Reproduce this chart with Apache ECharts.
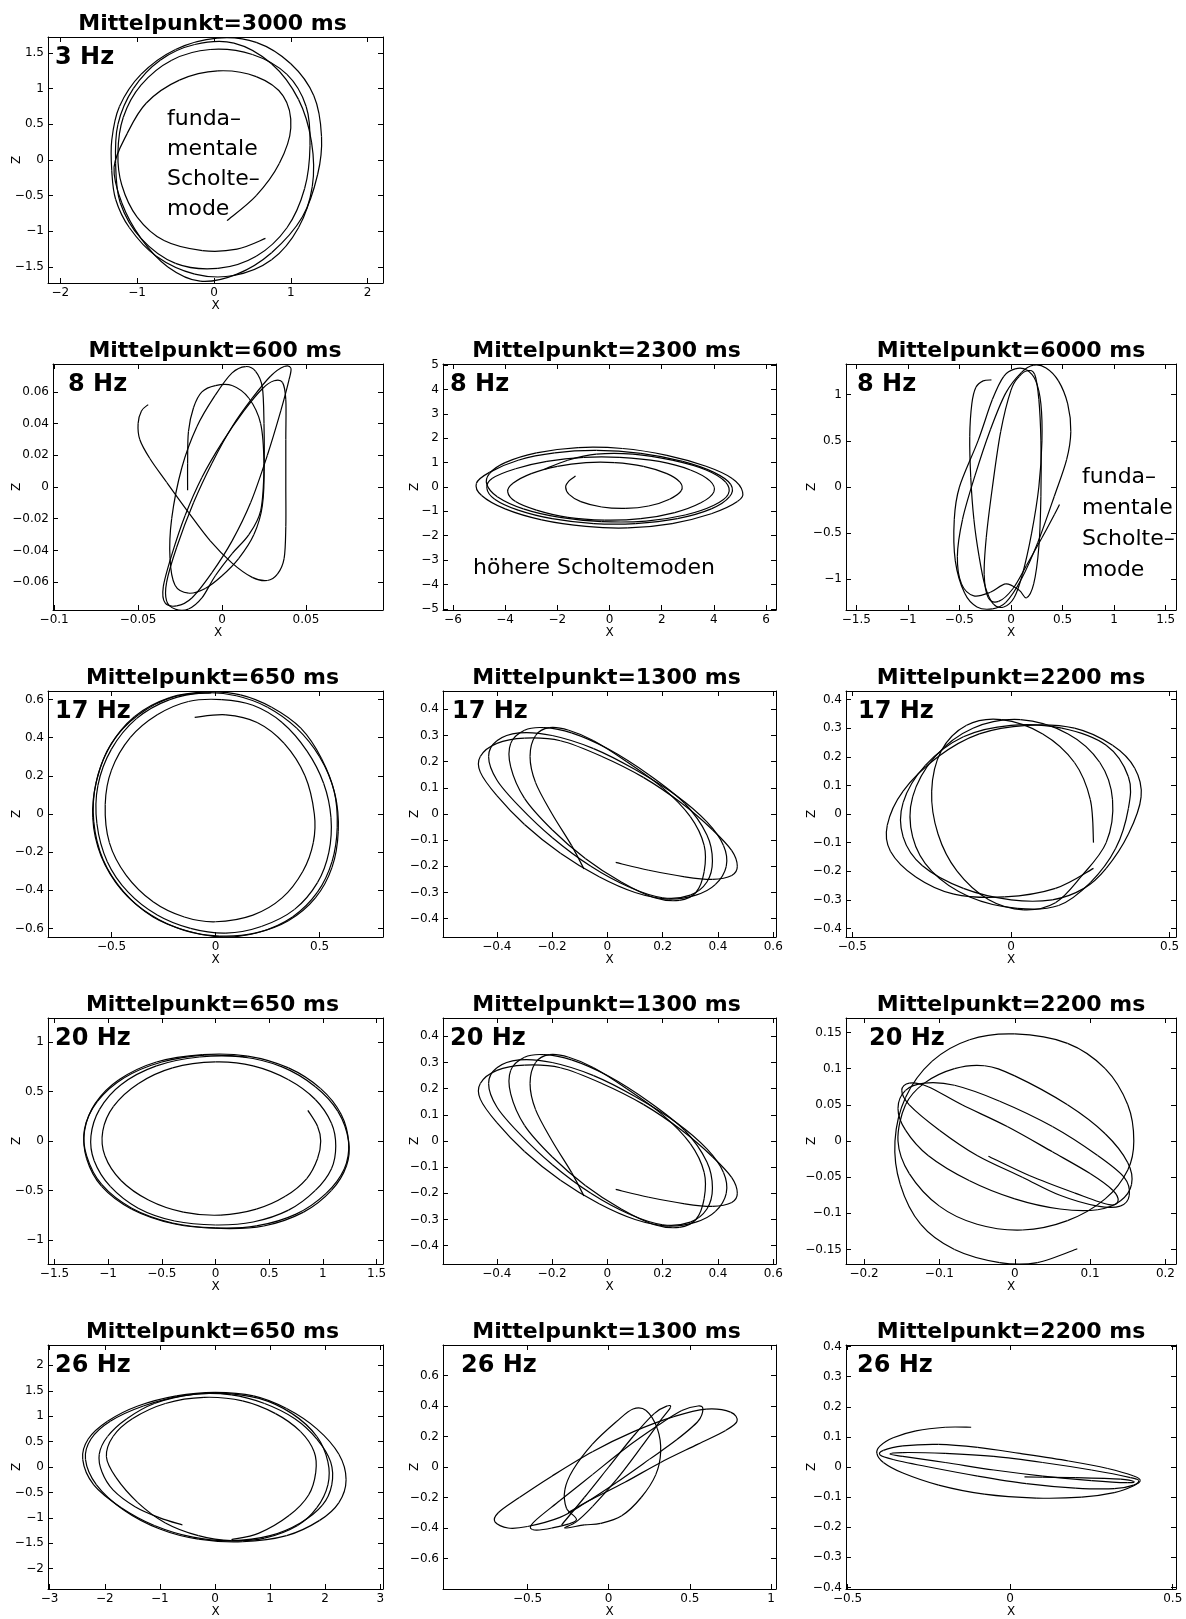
<!DOCTYPE html>
<html><head><meta charset="utf-8">
<script src="https://cdn.jsdelivr.net/npm/echarts/dist/echarts.min.js"></script>
<style>html,body{margin:0;padding:0;background:#fff}#c{width:1186px;height:1619px}</style>
</head><body><div id="c"></div>
<script>
// ---------- titles / labels ----------
const titles = ['Mittelpunkt=3000 ms','Mittelpunkt=600 ms','Mittelpunkt=2300 ms','Mittelpunkt=6000 ms',
  'Mittelpunkt=650 ms','Mittelpunkt=1300 ms','Mittelpunkt=2200 ms',
  'Mittelpunkt=650 ms','Mittelpunkt=1300 ms','Mittelpunkt=2200 ms',
  'Mittelpunkt=650 ms','Mittelpunkt=1300 ms','Mittelpunkt=2200 ms'];
const freqs = ['3 Hz','8 Hz','8 Hz','8 Hz','17 Hz','17 Hz','17 Hz','20 Hz','20 Hz','20 Hz','26 Hz','26 Hz','26 Hz'];
const noteFundamental = 'funda\u2013\nmentale\nScholte\u2013\nmode';
const noteHigher = 'h\u00f6here Scholtemoden';

// ---------- axis ranges ----------
const xRanges = [[-2.16,2.2],[-0.1007,0.0959],[-6.38,6.38],[-1.6,1.6],
  [-0.805,0.805],[-0.595,0.61],[-0.52,0.52],
  [-1.56,1.56],[-0.595,0.61],[-0.224,0.214],
  [-3.03,3.05],[-1.02,1.03],[-0.505,0.51]];
const yRanges = [[-1.725,1.725],[-0.0776,0.0776],[-5.05,5.05],[-1.333,1.333],
  [-0.645,0.645],[-0.47,0.47],[-0.43,0.43],
  [-1.245,1.245],[-0.47,0.47],[-0.17,0.17],
  [-2.4,2.4],[-0.8,0.8],[-0.405,0.405]];
// ---------- tick values ----------
const xTicks = [[-2,-1,0,1,2],[-0.1,-0.05,0,0.05],[-6,-4,-2,0,2,4,6],[-1.5,-1,-0.5,0,0.5,1,1.5],
  [-0.5,0,0.5],[-0.4,-0.2,0,0.2,0.4,0.6],[-0.5,0,0.5],
  [-1.5,-1,-0.5,0,0.5,1,1.5],[-0.4,-0.2,0,0.2,0.4,0.6],[-0.2,-0.1,0,0.1,0.2],
  [-3,-2,-1,0,1,2,3],[-0.5,0,0.5,1],[-0.5,0,0.5]];
const yTicks = [[-1.5,-1,-0.5,0,0.5,1,1.5],[-0.06,-0.04,-0.02,0,0.02,0.04,0.06],[-5,-4,-3,-2,-1,0,1,2,3,4,5],[-1,-0.5,0,0.5,1],
  [-0.6,-0.4,-0.2,0,0.2,0.4,0.6],[-0.4,-0.3,-0.2,-0.1,0,0.1,0.2,0.3,0.4],[-0.4,-0.3,-0.2,-0.1,0,0.1,0.2,0.3,0.4],
  [-1,-0.5,0,0.5,1],[-0.4,-0.3,-0.2,-0.1,0,0.1,0.2,0.3,0.4],[-0.15,-0.1,-0.05,0,0.05,0.1,0.15],
  [-2,-1.5,-1,-0.5,0,0.5,1,1.5,2],[-0.6,-0.4,-0.2,0,0.2,0.4,0.6],[-0.4,-0.3,-0.2,-0.1,0,0.1,0.2,0.3,0.4]];

// ---------- particle motion traces [X, Z] ----------
const hz3_3000 = [[0.17,-0.85],[0.55,-0.5],[0.85,-0.05],[1.0,0.45],[0.9,0.9],[0.55,1.17],[0.05,1.25],[-0.45,1.12],[-0.88,0.8],[-1.13,0.37],
  [-1.3,-0.1],[-1.2,-0.6],[-0.95,-1.1],[-0.6,-1.5],[-0.18,-1.7],[0.3,-1.6],[0.75,-1.3],[1.15,-0.8],[1.35,-0.2],[1.4,0.33],[1.3,0.9],[1.0,1.35],[0.55,1.65],[0.04,1.71],[-0.5,1.55],[-0.95,1.2],[-1.23,0.75],[-1.33,0.28],
  [-1.33,-0.15],[-1.28,-0.55],[-1.1,-0.95],[-0.75,-1.35],[-0.25,-1.6],[0.26,-1.62],[0.75,-1.4],[1.1,-0.95],[1.28,-0.37],[1.27,0.25],[1.1,0.85],[0.75,1.35],[0.26,1.64],[-0.25,1.62],[-0.7,1.4],[-1.05,1.0],[-1.25,0.5],
  [-1.28,-0.05],[-1.22,-0.6],[-0.95,-1.1],[-0.5,-1.45],[0.05,-1.52],[0.55,-1.35],[0.95,-0.95],[1.18,-0.4],[1.25,0.2],[1.2,0.75],[0.95,1.2],[0.5,1.48],[-0.05,1.55],[-0.55,1.4],[-0.95,1.05],[-1.18,0.6],
  [-1.25,0.1],[-1.2,-0.35],[-1.0,-0.8],[-0.65,-1.13],[-0.15,-1.27],[0.3,-1.25],[0.67,-1.1]];
const hz8_600 = [[-0.044,0.052],[-0.048,0.048],[-0.05,0.04],[-0.049,0.03],[-0.043,0.018],[-0.033,0.003],[-0.02,-0.016],[-0.007,-0.034],[0.006,-0.048],[0.018,-0.057],[0.027,-0.059],[0.033,-0.055],[0.037,-0.045],[0.038,-0.025],[0.038,0.0],[0.038,0.03],[0.038,0.055],[0.036,0.066],[0.031,0.067],[0.024,0.062],[0.013,0.048],[0.0,0.028],[-0.012,0.006],[-0.022,-0.018],[-0.03,-0.043],[-0.035,-0.063],[-0.034,-0.073],[-0.027,-0.075],[-0.018,-0.07],[-0.006,-0.054],[0.006,-0.034],[0.017,-0.01],[0.027,0.02],[0.035,0.048],[0.04,0.068],[0.041,0.075],[0.037,0.076],[0.029,0.07],[0.018,0.056],[0.006,0.038],[-0.006,0.015],[-0.017,-0.01],[-0.027,-0.038],[-0.033,-0.06],[-0.033,-0.072],[-0.028,-0.077],[-0.02,-0.077],[-0.012,-0.07],[-0.004,-0.056],[0.006,-0.042],[0.016,-0.03],[0.023,-0.015],[0.025,0.01],[0.025,0.04],[0.024,0.063],[0.02,0.073],[0.014,0.076],[0.006,0.072],[-0.004,0.058],[-0.015,0.038],[-0.024,0.012],[-0.03,-0.02],[-0.031,-0.045],[-0.028,-0.062],[-0.02,-0.067],[-0.01,-0.064],[0.0,-0.056],[0.01,-0.045],[0.019,-0.03],[0.024,-0.012],[0.025,0.015],[0.023,0.04],[0.016,0.056],[0.006,0.064],[-0.004,0.064],[-0.012,0.06],[-0.017,0.05],[-0.02,0.035],[-0.0205,0.015],[-0.0205,-0.002]];
const hz8_2300 = [[-1.3,0.45],[-1.55,0.25],[-1.68,0.0],[-1.55,-0.3],[-1.1,-0.6],[-0.3,-0.82],[0.6,-0.88],[1.5,-0.78],[2.3,-0.5],[2.75,-0.15],[2.7,0.2],[2.2,0.55],[1.3,0.85],[0.2,1.0],[-0.9,1.0],[-2.0,0.85],[-3.0,0.55],[-3.7,0.15],[-3.9,-0.2],[-3.6,-0.6],[-2.8,-0.95],[-1.6,-1.25],[-0.2,-1.36],[1.2,-1.3],[2.5,-1.05],[3.5,-0.65],[4.0,-0.2],[3.85,0.25],[3.1,0.7],[1.9,1.05],[0.4,1.22],[-1.0,1.22],[-2.4,1.05],[-3.6,0.75],[-4.5,0.35],[-4.7,-0.05],[-4.4,-0.5],[-3.5,-0.95],[-2.2,-1.3],[-0.6,-1.5],[1.0,-1.5],[2.6,-1.3],[3.9,-0.9],[4.6,-0.4],[4.65,0.1],[4.0,0.6],[2.8,1.05],[1.2,1.38],[-0.5,1.5],[-2.1,1.4],[-3.5,1.1],[-4.6,0.6],[-5.1,0.15],[-4.9,-0.35],[-4.0,-0.9],[-2.6,-1.35],[-0.9,-1.62],[0.7,-1.68],[2.4,-1.5],[3.9,-1.1],[4.9,-0.6],[5.1,-0.2],[4.7,0.35],[3.7,0.85],[2.2,1.3],[0.5,1.58],[-1.2,1.62],[-2.8,1.4],[-4.0,1.0],[-4.6,0.55],[-4.7,0.1],[-4.3,-0.4],[-3.3,-0.9],[-1.9,-1.25],[-0.3,-1.42],[1.4,-1.4],[2.9,-1.15],[4.0,-0.75],[4.55,-0.3],[4.45,0.2],[3.7,0.7],[2.4,1.1],[0.9,1.35],[-0.5,1.35],[-1.6,1.1],[-2.49,0.73]];
const hz8_6000 = [[-0.19,1.16],[-0.27,1.15],[-0.34,1.08],[-0.38,0.9],[-0.4,0.55],[-0.39,0.1],[-0.36,-0.35],[-0.31,-0.75],[-0.25,-1.08],[-0.17,-1.27],[-0.07,-1.3],[0.03,-1.2],[0.11,-0.95],[0.2,-0.5],[0.27,0.0],[0.3,0.5],[0.29,0.9],[0.24,1.15],[0.15,1.27],[0.04,1.28],[-0.07,1.2],[-0.18,0.95],[-0.32,0.5],[-0.5,0.0],[-0.55,-0.35],[-0.54,-0.8],[-0.45,-1.15],[-0.33,-1.3],[-0.18,-1.32],[-0.05,-1.25],[0.1,-1.0],[0.26,-0.6],[0.42,-0.1],[0.54,0.3],[0.58,0.6],[0.55,0.9],[0.46,1.15],[0.34,1.29],[0.22,1.32],[0.1,1.24],[-0.05,1.02],[-0.2,0.62],[-0.35,0.12],[-0.47,-0.35],[-0.52,-0.75],[-0.48,-1.05],[-0.36,-1.18],[-0.2,-1.14],[-0.05,-1.05],[0.08,-1.12],[0.15,-1.2],[0.22,-1.05],[0.27,-0.65],[0.29,-0.1],[0.29,0.5],[0.27,0.95],[0.23,1.22],[0.16,1.26],[0.08,1.2],[0.0,1.05],[-0.1,0.6],[-0.18,0.0],[-0.24,-0.55],[-0.26,-0.95],[-0.22,-1.2],[-0.12,-1.24],[0.02,-1.1],[0.15,-0.85],[0.3,-0.55],[0.42,-0.3],[0.47,-0.19]];
const hz17_650 = [[-0.1,0.507],[0.05,0.52],[0.2,0.48],[0.33,0.37],[0.43,0.2],[0.475,0.0],[0.47,-0.15],[0.42,-0.3],[0.32,-0.44],[0.18,-0.53],[0.0,-0.565],[-0.15,-0.54],[-0.3,-0.46],[-0.43,-0.32],[-0.51,-0.15],[-0.53,0.05],[-0.5,0.23],[-0.41,0.4],[-0.28,0.52],[-0.13,0.59],[0.03,0.6],[0.18,0.57],[0.32,0.48],[0.44,0.33],[0.52,0.16],[0.555,-0.02],[0.545,-0.2],[0.49,-0.36],[0.38,-0.5],[0.22,-0.59],[0.05,-0.625],[-0.12,-0.6],[-0.28,-0.53],[-0.42,-0.41],[-0.52,-0.25],[-0.57,-0.05],[-0.565,0.15],[-0.5,0.34],[-0.38,0.5],[-0.22,0.6],[-0.05,0.635],[0.1,0.62],[0.25,0.56],[0.39,0.45],[0.5,0.3],[0.57,0.12],[0.585,-0.07],[0.56,-0.25],[0.49,-0.41],[0.37,-0.54],[0.21,-0.62],[0.04,-0.645],[-0.13,-0.615],[-0.3,-0.54],[-0.44,-0.41],[-0.54,-0.24],[-0.585,-0.04],[-0.575,0.16],[-0.51,0.35],[-0.39,0.51],[-0.22,0.61],[-0.04,0.64],[0.12,0.625],[0.27,0.56],[0.41,0.45],[0.51,0.29],[0.575,0.1],[0.59,-0.09],[0.56,-0.28],[0.48,-0.44],[0.35,-0.56],[0.19,-0.625],[0.02,-0.64],[-0.15,-0.61],[-0.31,-0.53],[-0.45,-0.4],[-0.55,-0.22],[-0.59,-0.02],[-0.57,0.18],[-0.5,0.37],[-0.37,0.52],[-0.2,0.615],[-0.02,0.635]];
const hz17_1300 = [[0.03,-0.185],[0.15,-0.215],[0.28,-0.24],[0.38,-0.25],[0.45,-0.235],[0.47,-0.2],[0.45,-0.14],[0.38,-0.06],[0.27,0.04],[0.13,0.14],[-0.02,0.22],[-0.17,0.28],[-0.3,0.29],[-0.4,0.27],[-0.46,0.22],[-0.46,0.16],[-0.4,0.07],[-0.3,-0.04],[-0.17,-0.15],[-0.03,-0.24],[0.1,-0.3],[0.22,-0.325],[0.32,-0.31],[0.39,-0.27],[0.43,-0.2],[0.42,-0.12],[0.36,-0.03],[0.25,0.07],[0.1,0.17],[-0.05,0.25],[-0.2,0.3],[-0.32,0.31],[-0.4,0.28],[-0.43,0.22],[-0.4,0.13],[-0.32,0.03],[-0.2,-0.09],[-0.06,-0.2],[0.08,-0.28],[0.2,-0.32],[0.3,-0.31],[0.36,-0.26],[0.38,-0.18],[0.36,-0.08],[0.28,0.04],[0.15,0.15],[0.0,0.25],[-0.13,0.31],[-0.23,0.33],[-0.3,0.32],[-0.35,0.27],[-0.35,0.18],[-0.3,0.06],[-0.2,-0.06],[-0.08,-0.17],[0.05,-0.26],[0.17,-0.32],[0.26,-0.33],[0.32,-0.3],[0.35,-0.22],[0.35,-0.12],[0.3,-0.01],[0.2,0.1],[0.07,0.2],[-0.05,0.28],[-0.14,0.32],[-0.21,0.33],[-0.26,0.3],[-0.28,0.22],[-0.26,0.12],[-0.2,0.0],[-0.13,-0.12],[-0.085,-0.21]];
const hz17_2200 = [[0.26,-0.1],[0.25,0.05],[0.2,0.18],[0.1,0.28],[-0.03,0.33],[-0.14,0.31],[-0.22,0.22],[-0.25,0.08],[-0.23,-0.07],[-0.17,-0.2],[-0.07,-0.3],[0.04,-0.335],[0.14,-0.31],[0.22,-0.22],[0.3,-0.1],[0.32,0.05],[0.28,0.18],[0.18,0.28],[0.03,0.33],[-0.12,0.3],[-0.24,0.2],[-0.31,0.06],[-0.31,-0.08],[-0.25,-0.2],[-0.13,-0.29],[0.02,-0.33],[0.15,-0.32],[0.25,-0.24],[0.33,-0.12],[0.37,0.02],[0.37,0.13],[0.3,0.24],[0.16,0.3],[0.0,0.31],[-0.15,0.27],[-0.27,0.17],[-0.34,0.04],[-0.34,-0.08],[-0.28,-0.18],[-0.15,-0.26],[0.0,-0.3],[0.13,-0.3],[0.23,-0.26],[0.3,-0.19],[0.37,-0.07],[0.41,0.06],[0.39,0.16],[0.32,0.24],[0.2,0.3],[0.05,0.31],[-0.1,0.28],[-0.23,0.2],[-0.34,0.08],[-0.39,-0.04],[-0.38,-0.13],[-0.3,-0.22],[-0.18,-0.28],[-0.02,-0.29],[0.14,-0.26],[0.26,-0.19]];
const hz20_650 = [[0.86,0.31],[0.95,0.15],[0.98,0.0],[0.95,-0.18],[0.85,-0.38],[0.65,-0.56],[0.38,-0.69],[0.05,-0.75],[-0.3,-0.72],[-0.62,-0.6],[-0.88,-0.4],[-1.03,-0.15],[-1.05,0.1],[-0.95,0.35],[-0.72,0.58],[-0.4,0.74],[0.0,0.8],[0.35,0.76],[0.68,0.62],[0.93,0.42],[1.08,0.18],[1.12,-0.05],[1.08,-0.28],[0.93,-0.5],[0.68,-0.7],[0.35,-0.82],[0.0,-0.85],[-0.38,-0.81],[-0.72,-0.68],[-0.98,-0.46],[-1.13,-0.2],[-1.16,0.05],[-1.08,0.32],[-0.88,0.57],[-0.55,0.76],[-0.15,0.85],[0.25,0.85],[0.62,0.75],[0.93,0.55],[1.14,0.3],[1.24,0.0],[1.22,-0.25],[1.08,-0.5],[0.82,-0.72],[0.45,-0.86],[0.05,-0.885],[-0.38,-0.84],[-0.78,-0.69],[-1.06,-0.46],[-1.2,-0.18],[-1.22,0.1],[-1.12,0.38],[-0.9,0.62],[-0.55,0.8],[-0.12,0.875],[0.3,0.86],[0.68,0.74],[0.98,0.53],[1.17,0.27],[1.24,-0.02],[1.2,-0.28],[1.03,-0.53],[0.75,-0.74],[0.38,-0.86],[0.0,-0.88],[-0.4,-0.83],[-0.78,-0.68],[-1.06,-0.44],[-1.2,-0.15],[-1.22,0.12],[-1.1,0.4],[-0.85,0.64],[-0.5,0.8],[-0.1,0.87],[0.3,0.85]];
const hz20_1300 = hz17_1300;
const hz20_2200 = [[-0.035,-0.021],[0.02,-0.048],[0.08,-0.072],[0.125,-0.088],[0.137,-0.083],[0.13,-0.068],[0.1,-0.045],[0.05,-0.015],[-0.01,0.02],[-0.07,0.05],[-0.115,0.075],[-0.14,0.08],[-0.15,0.07],[-0.14,0.05],[-0.1,0.015],[-0.05,-0.02],[0.01,-0.05],[0.06,-0.075],[0.11,-0.09],[0.14,-0.09],[0.152,-0.075],[0.145,-0.05],[0.11,-0.02],[0.05,0.02],[-0.02,0.055],[-0.08,0.077],[-0.12,0.08],[-0.145,0.07],[-0.155,0.045],[-0.145,0.015],[-0.115,-0.02],[-0.06,-0.055],[0.0,-0.08],[0.06,-0.094],[0.11,-0.095],[0.14,-0.083],[0.155,-0.06],[0.15,-0.03],[0.12,0.01],[0.07,0.05],[0.0,0.09],[-0.04,0.104],[-0.08,0.1],[-0.12,0.08],[-0.145,0.05],[-0.155,0.0],[-0.14,-0.045],[-0.1,-0.09],[-0.05,-0.115],[0.01,-0.123],[0.07,-0.11],[0.12,-0.08],[0.15,-0.04],[0.158,0.0],[0.15,0.05],[0.12,0.1],[0.07,0.135],[0.0,0.148],[-0.06,0.14],[-0.11,0.11],[-0.145,0.06],[-0.159,0.0],[-0.152,-0.06],[-0.125,-0.115],[-0.08,-0.15],[-0.02,-0.168],[0.03,-0.168],[0.083,-0.149]];
const hz26_650 = [[-0.59,-1.14],[-1.0,-1.0],[-1.45,-0.78],[-1.85,-0.45],[-2.05,-0.1],[-2.1,0.25],[-1.95,0.6],[-1.6,0.95],[-1.1,1.25],[-0.4,1.43],[0.3,1.42],[0.9,1.25],[1.45,0.95],[1.85,0.55],[2.1,0.1],[2.12,-0.35],[1.95,-0.75],[1.55,-1.1],[1.0,-1.35],[0.3,-1.45],[-0.4,-1.38],[-1.1,-1.15],[-1.7,-0.8],[-2.2,-0.35],[-2.4,0.15],[-2.3,0.55],[-1.95,0.9],[-1.4,1.2],[-0.7,1.4],[0.0,1.47],[0.7,1.4],[1.3,1.15],[1.85,0.75],[2.25,0.25],[2.38,-0.25],[2.25,-0.7],[1.9,-1.05],[1.3,-1.35],[0.5,-1.47],[-0.3,-1.42],[-1.0,-1.22],[-1.65,-0.85],[-2.15,-0.35],[-2.35,0.15],[-2.25,0.55],[-1.9,0.9],[-1.3,1.2],[-0.6,1.4],[0.1,1.45],[0.8,1.35],[1.4,1.05],[1.85,0.6],[2.05,0.1],[2.05,-0.35],[1.85,-0.8],[1.5,-1.15],[0.9,-1.4],[0.3,-1.45],[-0.3,-1.35],[-0.9,-1.1],[-1.4,-0.7],[-1.8,-0.2],[-1.97,0.2],[-1.85,0.6],[-1.5,0.95],[-0.9,1.25],[-0.2,1.37],[0.5,1.3],[1.1,1.05],[1.55,0.7],[1.8,0.3],[1.83,-0.1],[1.7,-0.55],[1.35,-0.95],[0.8,-1.3],[0.3,-1.43]];
const hz26_1300 = [[-0.29,-0.38],[-0.15,-0.2],[0.0,0.0],[0.15,0.2],[0.28,0.35],[0.36,0.4],[0.38,0.39],[0.33,0.32],[0.2,0.13],[0.05,-0.08],[-0.1,-0.26],[-0.2,-0.36],[-0.27,-0.4],[-0.15,-0.38],[-0.05,-0.37],[0.08,-0.32],[0.2,-0.2],[0.29,-0.05],[0.32,0.1],[0.3,0.25],[0.23,0.37],[0.15,0.38],[0.05,0.3],[-0.1,0.15],[-0.22,-0.02],[-0.27,-0.15],[-0.26,-0.27],[-0.2,-0.35],[-0.35,-0.4],[-0.47,-0.41],[-0.46,-0.36],[-0.3,-0.22],[-0.1,-0.05],[0.1,0.12],[0.3,0.27],[0.45,0.37],[0.55,0.4],[0.58,0.38],[0.55,0.3],[0.42,0.18],[0.25,0.05],[0.05,-0.1],[-0.15,-0.24],[-0.3,-0.33],[-0.5,-0.39],[-0.62,-0.4],[-0.7,-0.36],[-0.68,-0.3],[-0.55,-0.2],[-0.35,-0.06],[-0.1,0.1],[0.15,0.23],[0.4,0.33],[0.6,0.38],[0.75,0.36],[0.79,0.3],[0.72,0.24],[0.55,0.15],[0.32,0.03],[0.1,-0.1],[-0.12,-0.22],[-0.25,-0.3]];
const hz26_2200 = [[-0.12,0.132],[-0.2,0.132],[-0.29,0.12],[-0.36,0.097],[-0.4,0.07],[-0.41,0.045],[-0.39,0.015],[-0.33,-0.02],[-0.22,-0.06],[-0.08,-0.09],[0.08,-0.103],[0.22,-0.1],[0.32,-0.085],[0.38,-0.062],[0.4,-0.045],[0.38,-0.03],[0.3,-0.005],[0.18,0.02],[0.03,0.045],[-0.1,0.065],[-0.22,0.075],[-0.33,0.07],[-0.39,0.055],[-0.4,0.04],[-0.36,0.025],[-0.25,0.0],[-0.1,-0.03],[0.05,-0.055],[0.2,-0.07],[0.32,-0.072],[0.38,-0.06],[0.395,-0.045],[0.37,-0.035],[0.25,-0.01],[0.1,0.015],[-0.05,0.035],[-0.2,0.045],[-0.33,0.048],[-0.37,0.043],[-0.33,0.035],[-0.2,0.015],[-0.05,-0.01],[0.1,-0.03],[0.25,-0.045],[0.36,-0.052],[0.38,-0.048],[0.34,-0.04],[0.2,-0.035],[0.1,-0.034],[0.044,-0.033]];

const traces = [hz3_3000,hz8_600,hz8_2300,hz8_6000,hz17_650,hz17_1300,hz17_2200,hz20_650,hz20_1300,hz20_2200,hz26_650,hz26_1300,hz26_2200];

// ---------- layout (pixels) ----------
const boxes = [[48,37,383,283],[53,364,383,610],[443,364,776,610],[846,364,1176,610],
  [48,691,383,937],[443,691,776,937],[846,691,1176,937],
  [48,1018,383,1264],[443,1018,776,1264],[846,1018,1176,1264],
  [48,1345,383,1591],[443,1345,776,1591],[846,1345,1176,1591]];
const zLabelX = [15,15,413,810,15,413,810,15,413,810,15,413,810];
const freqOffset = [7,15,7,11,7,9,12,7,7,23,7,18,11];
const titleShift = [-3,-3,-3,0,-3,-3,0,-3,-3,0,-3,-3,0];

const FONT = 'DejaVu Sans';
const fmt = v => (v < 0 ? '\u2212' + String(-v) : String(v));
const lineC = {color:'#000', width:1};

// smooth curve through the traced points (Catmull-Rom segments in pixel space)
function makeRender(pts){
  return function(params, api){
    const k = params.dataIndex, n = pts.length;
    if (k >= n - 1) return null;
    const p0 = api.coord(pts[Math.max(k-1,0)]), p1 = api.coord(pts[k]);
    const p2 = api.coord(pts[k+1]), p3 = api.coord(pts[Math.min(k+2,n-1)]);
    const t = 1/6;
    return {type:'bezierCurve', silent:true,
      shape:{x1:p1[0], y1:p1[1], x2:p2[0], y2:p2[1],
        cpx1:p1[0]+(p2[0]-p0[0])*t, cpy1:p1[1]+(p2[1]-p0[1])*t,
        cpx2:p2[0]-(p3[0]-p1[0])*t, cpy2:p2[1]-(p3[1]-p1[1])*t},
      style:{stroke:'#000', fill:'none', lineWidth:1.2}};
  };
}

const grid=[], xAxis=[], yAxis=[], series=[], graphic=[];
boxes.forEach((b,i)=>{
  grid.push({left:b[0], top:b[1], width:b[2]-b[0], height:b[3]-b[1], containLabel:false});
  const common = (ticks)=>({type:'value', gridIndex:i, splitLine:{show:false},
    axisLine:{show:true,onZero:false,lineStyle:lineC},
    axisTick:{show:true,inside:true,length:5,customValues:ticks,lineStyle:lineC}});
  xAxis.push(Object.assign(common(xTicks[i]),{position:'bottom', min:xRanges[i][0], max:xRanges[i][1],
    axisLabel:{show:true,customValues:xTicks[i],formatter:fmt,color:'#000',fontSize:12,fontFamily:FONT,margin:4},
    name:'X', nameLocation:'middle', nameGap:17, nameTextStyle:{color:'#000',fontSize:12,fontFamily:FONT}}));
  xAxis.push(Object.assign(common(xTicks[i]),{position:'top', min:xRanges[i][0], max:xRanges[i][1], axisLabel:{show:false}}));
  yAxis.push(Object.assign(common(yTicks[i]),{position:'left', min:yRanges[i][0], max:yRanges[i][1],
    axisLabel:{show:true,customValues:yTicks[i],formatter:fmt,color:'#000',fontSize:12,fontFamily:FONT,margin:4},
    name:'Z', nameLocation:'middle', nameRotate:90, nameMoveOverlap:false, nameGap:b[0]-zLabelX[i]-8,
    nameTextStyle:{color:'#000',fontSize:12,fontFamily:FONT}}));
  yAxis.push(Object.assign(common(yTicks[i]),{position:'right', min:yRanges[i][0], max:yRanges[i][1], axisLabel:{show:false}}));
  series.push({type:'custom', xAxisIndex:2*i, yAxisIndex:2*i, data:traces[i], clip:true, silent:true,
    encode:{x:0, y:1}, renderItem:makeRender(traces[i])});
  graphic.push({type:'text', x:(b[0]+b[2])/2 + titleShift[i], y:b[1]-13, silent:true,
    style:{text:titles[i], fill:'#000', fontSize:22, fontWeight:'bold', fontFamily:FONT, textAlign:'center', textVerticalAlign:'middle'}});
  graphic.push({type:'text', x:b[0]+freqOffset[i], y:b[1]+21, silent:true,
    style:{text:freqs[i], fill:'#000', fontSize:24, fontWeight:'bold', fontFamily:FONT, textAlign:'left', textVerticalAlign:'middle'}});
});
graphic.push({type:'text', x:167, y:104, silent:true, style:{text:noteFundamental, fill:'#000', fontSize:22, lineHeight:30, fontFamily:FONT, textAlign:'left', textVerticalAlign:'top'}});
graphic.push({type:'text', x:1082, y:462, silent:true, style:{text:noteFundamental, fill:'#000', fontSize:22, lineHeight:31, fontFamily:FONT, textAlign:'left', textVerticalAlign:'top'}});
graphic.push({type:'text', x:473, y:568, silent:true, style:{text:noteHigher, fill:'#000', fontSize:22, fontFamily:FONT, textAlign:'left', textVerticalAlign:'middle'}});

const chart = echarts.init(document.getElementById('c'), null, {renderer:'canvas'});
chart.setOption({backgroundColor:'#fff', animation:false, grid, xAxis, yAxis, series, graphic});
</script></body></html>
